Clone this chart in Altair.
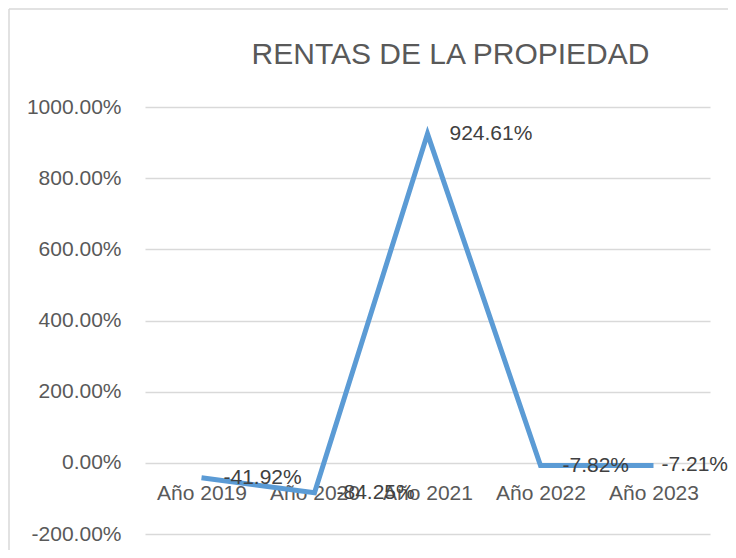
import altair as alt
import pandas as pd

years = ["Año 2019", "Año 2020", "Año 2021", "Año 2022", "Año 2023"]
values = [-41.92, -84.25, 924.61, -7.82, -7.21]
labels = ["-41.92%", "-84.25%", "924.61%", "-7.82%", "-7.21%"]
y_ticks = [-200, 0, 200, 400, 600, 800, 1000]

df = pd.DataFrame({"year": years, "value": values, "label": labels})

FONT = "Liberation Sans"
W, H = 565, 427
ZERO_OFFSET = -(H * 200 / 1200)

x_enc = alt.X(
    "year:N",
    sort=years,
    scale=alt.Scale(type="point", padding=0.5),
    axis=alt.Axis(
        title=None, domain=False, ticks=False, tickSize=0, grid=False,
        offset=ZERO_OFFSET, labelPadding=31, labelBaseline="middle",
        labelFont=FONT, labelFontSize=21, labelColor="#595959", labelAngle=0,
        labelOverlap=False,
    ),
)
y_enc = alt.Y(
    "value:Q",
    scale=alt.Scale(domain=[-200, 1000], nice=False, zero=False),
    axis=alt.Axis(
        title=None, domain=False, ticks=False, tickSize=0, values=y_ticks,
        labelExpr="(datum.value < 0 ? '-' : '') + format(abs(datum.value), '.2f') + '%'",
        labelPadding=24, labelFont=FONT, labelFontSize=21, labelColor="#595959",
        gridColor="#D9D9D9", gridWidth=1.3,
    ),
)

base = alt.Chart(df)
first_only = alt.datum.year == years[0]

border_left = base.mark_rule(color="#D9D9D9", strokeWidth=1.5, clip=False).encode(
    x=alt.value(-136), y=alt.value(-98), y2=alt.value(H + 60)
).transform_filter(first_only)
border_top = base.mark_rule(color="#D9D9D9", strokeWidth=1.5, clip=False).encode(
    x=alt.value(-136), x2=alt.value(W + 60), y=alt.value(-98)
).transform_filter(first_only)

line = base.mark_line(color="#5B9BD5", strokeWidth=5, strokeJoin="miter", strokeCap="butt").encode(
    x=x_enc, y=y_enc
)

text_main = base.mark_text(
    align="left", baseline="middle", dx=22, font=FONT, fontSize=21, color="#404040"
).encode(x=x_enc, y=y_enc, text="label:N").transform_filter(
    alt.datum.year != years[-1]
)
text_last = base.mark_text(
    align="left", baseline="middle", dx=8, font=FONT, fontSize=21, color="#404040"
).encode(x=x_enc, y=y_enc, text="label:N").transform_filter(
    alt.datum.year == years[-1]
)

chart = (
    alt.layer(border_left, border_top, line, text_main, text_last)
    .properties(
        width=W,
        height=H,
        background="white",
        title=alt.TitleParams(
            "RENTAS DE LA PROPIEDAD", font=FONT, fontSize=30, fontWeight="normal",
            color="#595959", anchor="middle", frame="group", dx=23, offset=-86,
            baseline="alphabetic",
        ),
        autosize=alt.AutoSizeParams(type="none"),
        padding={"left": 137, "top": 99, "right": 18, "bottom": 16},
    )
    .configure_view(stroke="transparent", strokeWidth=0)
    .configure_axis(domain=False, ticks=False)
)

chart.save("out.html", embed_options={"renderer": "svg", "actions": False})
